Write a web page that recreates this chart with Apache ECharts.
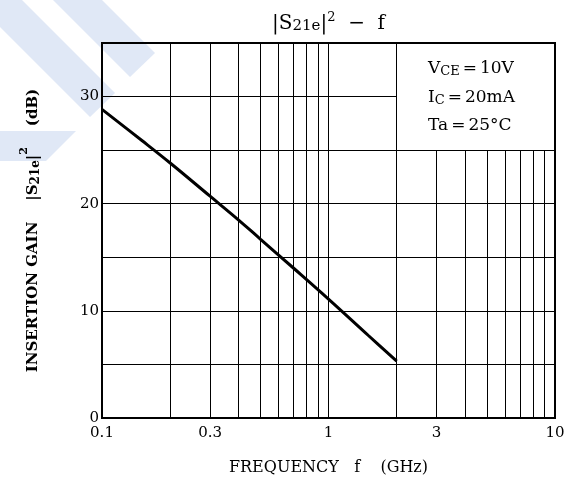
<!DOCTYPE html>
<html><head><meta charset="utf-8">
<script src="https://cdn.jsdelivr.net/npm/echarts@6/dist/echarts.min.js"></script>
<style>html,body{margin:0;padding:0;background:#fff}#c{width:574px;height:483px}</style>
</head><body><div id="c"></div>
<script>
// ---- data ----
const freqGHz = [0.1, 0.15, 0.2, 0.3, 0.4, 0.5, 0.7, 1, 1.5, 2];
const gainDb  = [28.8, 25.9, 23.8, 20.7, 18.5, 16.7, 14.0, 11.1, 7.7, 5.3];
const xTickLabels = [0.1, 0.3, 1, 3, 10];
const yTickLabels = [0, 10, 20, 30];
const vGridFull  = [0.2, 0.3, 0.4, 0.5, 0.6, 0.7, 0.8, 0.9, 1, 2];
const vGridShort = [3, 4, 5, 6, 7, 8, 9];      // stop below the condition box
const hGridFull  = [5, 10, 15, 20, 25];
const hGridShort = [30];                      // stops at 2 GHz
const xMin = 0.1, xMax = 10, yMin = 0, yMax = 35, yStep = 5;
const shortTop = 25, shortRight = 2;
const conditions = [
  '{n|V}{s|CE}{e|=}{n|10V}',
  '{n|I}{s|C}{e|=}{n|20mA}',
  '{n|Ta}{e|=}{n|25°C}'
];

const FONT = 'DejaVu Serif';
const gridLines = [];
vGridFull.forEach(f => gridLines.push([{coord:[f, yMin]}, {coord:[f, yMax]}]));
vGridShort.forEach(f => gridLines.push([{coord:[f, yMin]}, {coord:[f, shortTop]}]));
hGridFull.forEach(g => gridLines.push([{coord:[xMin, g]}, {coord:[xMax, g]}]));
hGridShort.forEach(g => gridLines.push([{coord:[xMin, g]}, {coord:[shortRight, g]}]));

const condRich = {
  n: {fontFamily: FONT, fontSize: 17, lineHeight: 17, padding: [0,0,0,0], verticalAlign: 'top', color: '#000'},
  s: {fontFamily: FONT, fontSize: 13, lineHeight: 13, padding: [5,0,0,0], verticalAlign: 'top', color: '#000'},
  e: {fontFamily: FONT, fontSize: 17, lineHeight: 17, padding: [0,3,0,3], verticalAlign: 'top', color: '#000'}
};
const condTops = [60, 89, 117];
const stripeColor = '#e0e8f6';

const chart = echarts.init(document.getElementById('c'), null, {renderer: 'canvas'});
chart.setOption({
  animation: false,
  backgroundColor: '#fff',
  title: {
    left: 272, top: 8, padding: 0,
    text: '{n||S}{s|21e}{n||}{p|2}{n|  −  f}',
    textStyle: {
      fontWeight: 'normal',
      rich: {
        n: {fontFamily: FONT, fontSize: 20, fontWeight: 'normal', lineHeight: 20, padding: [6,0,0,0], verticalAlign: 'top', color: '#000'},
        s: {fontFamily: FONT, fontSize: 15, fontWeight: 'normal', lineHeight: 15, padding: [11,0,0,0], verticalAlign: 'top', color: '#000'},
        p: {fontFamily: FONT, fontSize: 13, fontWeight: 'normal', lineHeight: 13, padding: [3,0,0,0], verticalAlign: 'top', color: '#000'}
      }
    }
  },
  graphic: [
    {type: 'polygon', z: -10, silent: true, shape: {points: [[53,0],[102,0],[155,53],[130,77]]}, style: {fill: stripeColor}},
    {type: 'polygon', z: -10, silent: true, shape: {points: [[0,0],[22,0],[115,93],[90,117],[0,27]]}, style: {fill: stripeColor}},
    {type: 'polygon', z: -10, silent: true, shape: {points: [[0,131],[76,131],[46,161],[0,161]]}, style: {fill: stripeColor}}
  ].concat(conditions.map((t, i) => ({
    type: 'text', left: 428, top: condTops[i], silent: true,
    style: {text: t, rich: condRich}
  }))),
  grid: {left: 102, top: 43, right: 19, bottom: 65, show: true, borderColor: '#000', borderWidth: 2, containLabel: false},
  xAxis: {
    type: 'log', logBase: 10, min: xMin, max: xMax,
    axisLine: {show: false}, axisTick: {show: false}, splitLine: {show: false}, minorSplitLine: {show: false},
    axisLabel: {customValues: xTickLabels, fontFamily: FONT, fontSize: 15, color: '#000', margin: 8},
    name: 'FREQUENCY   f    (GHz)', nameLocation: 'middle', nameGap: 42,
    nameTextStyle: {fontFamily: FONT, fontSize: 16, color: '#000'}
  },
  yAxis: {
    type: 'value', min: yMin, max: yMax, interval: yStep,
    axisLine: {show: false}, axisTick: {show: false}, splitLine: {show: false},
    axisLabel: {customValues: yTickLabels, fontFamily: FONT, fontSize: 15, color: '#000', margin: 3},
    name: '{n|INSERTION GAIN    |S}{s|21e}{n||}{p|2}{n|    (dB)}',
    nameLocation: 'middle', nameRotate: 90, nameGap: 69,
    nameTextStyle: {
      rich: {
        n: {fontFamily: FONT, fontSize: 15, fontWeight: 'bold', lineHeight: 15, padding: [8,0,0,0], verticalAlign: 'top', color: '#000'},
        s: {fontFamily: FONT, fontSize: 12, fontWeight: 'bold', lineHeight: 12, padding: [12,0,0,0], verticalAlign: 'top', color: '#000'},
        p: {fontFamily: FONT, fontSize: 11, fontWeight: 'bold', lineHeight: 11, padding: [1,0,0,0], verticalAlign: 'top', color: '#000'}
      }
    }
  },
  series: [
    {
      name: 'grid', type: 'line', data: [], silent: true,
      markLine: {silent: true, symbol: ['none','none'], label: {show: false},
        lineStyle: {color: '#000', width: 1, type: 'solid'}, emphasis: {disabled: true}, data: gridLines}
    },
    {
      name: '|S21e|^2', type: 'line', smooth: 0.4, symbol: 'none',
      lineStyle: {color: '#000', width: 3},
      data: freqGHz.map((f, i) => [f, gainDb[i]])
    }
  ]
});
</script></body></html>
